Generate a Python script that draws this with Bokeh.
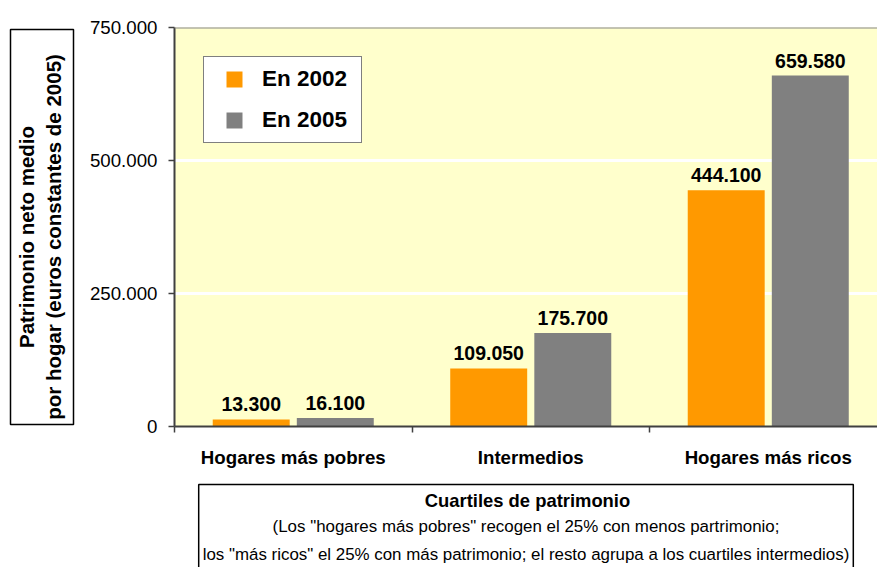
from math import pi
from bokeh.plotting import figure
from bokeh.layouts import column, row
from bokeh.models import (Range1d, FixedTicker, Label, Legend, LegendItem, Span,
                          ColumnDataSource)
from bokeh.core.properties import value
from bokeh.embed import file_html
from bokeh.resources import INLINE

# ---- data ----
categories = ["Hogares más pobres", "Intermedios", "Hogares más ricos"]
series_names = ["En 2002", "En 2005"]
values_2002 = [13300, 109050, 444100]
values_2005 = [16100, 175700, 659580]
y_ticks = [0, 250000, 500000, 750000]
y_tick_labels = ["0", "250.000", "500.000", "750.000"]
y_title = "Patrimonio neto medio\npor hogar (euros constantes de 2005)"
note_title = "Cuartiles de patrimonio"
note_lines = ['(Los "hogares más pobres" recogen el 25% con menos partrimonio;',
              'los "más ricos" el 25% con más patrimonio; el resto agrupa a los cuartiles intermedios)']

FONT = "Liberation Sans"
ORANGE = "#FF9900"
GRAY = "#808080"

def fmt(v):
    return f"{v:,}".replace(",", ".")

# category i centred at 2*i+1, boundaries at even numbers
centers = [2 * i + 1 for i in range(len(categories))]
off = 0.354
bw = 0.648

src = ColumnDataSource(dict(
    x1=[c - off for c in centers], x2=[c + off for c in centers],
    v1=values_2002, v2=values_2005,
    l1=[fmt(v) for v in values_2002], l2=[fmt(v) for v in values_2005],
))

TOP_H = 470
LEFT_W = 80
W, H = 877, 567
FR_TOP, FR_BOT = 27, 427   # frame top / bottom in page pixels

p = figure(width=W - LEFT_W, height=TOP_H, output_backend="svg", toolbar_location=None,
           x_range=Range1d(0, 5.92), y_range=Range1d(0, 750000),
           min_border_left=94, min_border_right=0, min_border_top=FR_TOP,
           min_border_bottom=TOP_H - FR_BOT)
p.background_fill_color = "#FFFFCC"
p.border_fill_color = "white"
p.outline_line_color = None

r1 = p.vbar(x="x1", top="v1", width=bw, bottom=0, source=src,
            fill_color=ORANGE, line_color=None)
r2 = p.vbar(x="x2", top="v2", width=bw, bottom=0, source=src,
            fill_color=GRAY, line_color=None)

p.text(x="x1", y="v1", text="l1", source=src, text_align="center",
       text_baseline="alphabetic", y_offset=-15, text_font=value(FONT),
       text_font_style="bold", text_font_size="19.5px", text_color="black")
p.text(x="x2", y="v2", text="l2", source=src, text_align="center",
       text_baseline="alphabetic", y_offset=-15, text_font=value(FONT),
       text_font_style="bold", text_font_size="19.5px", text_color="black")

# axes
xa = p.xaxis[0]
xa.ticker = FixedTicker(ticks=centers, minor_ticks=[0] + [c + 1 for c in centers[:-1]])
xa.major_label_overrides = {c: lab for c, lab in zip(centers, categories)}
xa.major_tick_out = 0
xa.major_tick_in = 0
xa.minor_tick_out = 6
xa.minor_tick_in = 0
xa.major_label_standoff = 14
xa.major_label_text_font = FONT
xa.major_label_text_font_style = "bold"
xa.major_label_text_font_size = "18.7px"
xa.major_label_text_color = "black"
xa.axis_line_color = "#404040"
xa.axis_line_width = 2
xa.minor_tick_line_color = "#404040"
xa.minor_tick_line_width = 1.5

ya = p.yaxis[0]
ya.ticker = FixedTicker(ticks=y_ticks, minor_ticks=[])
ya.major_label_overrides = {t: lab for t, lab in zip(y_ticks, y_tick_labels)}
ya.major_tick_out = 6
ya.major_tick_in = 0
ya.minor_tick_out = 0
ya.minor_tick_in = 0
ya.major_label_standoff = 11
ya.major_label_text_font = FONT
ya.major_label_text_font_size = "18.7px"
ya.major_label_text_color = "black"
ya.axis_line_color = "#404040"
ya.axis_line_width = 2
ya.major_tick_line_color = "#404040"
ya.major_tick_line_width = 1.5

p.xgrid.visible = False
p.ygrid.ticker = FixedTicker(ticks=y_ticks[1:-1])
p.ygrid.grid_line_color = "white"
p.ygrid.grid_line_width = 3

p.add_layout(Span(location=y_ticks[-1], dimension="width",
                  line_color="#888888", line_width=2))

# legend (proxy markers kept outside the visible range)
d1 = p.scatter(x=[centers[0]], y=[-y_ticks[-1]], marker="square", size=16,
               fill_color=ORANGE, line_color=None)
d2 = p.scatter(x=[centers[0]], y=[-y_ticks[-1]], marker="square", size=16,
               fill_color=GRAY, line_color=None)
legend = Legend(items=[LegendItem(label=series_names[0], renderers=[d1]),
                       LegendItem(label=series_names[1], renderers=[d2])],
                location=(29, 283), margin=0, padding=2, spacing=1,
                glyph_width=56, glyph_height=40, label_standoff=0, label_width=97,
                label_text_font=FONT, label_text_font_style="bold",
                label_text_font_size="22.5px", label_text_color="black",
                border_line_color="black", border_line_width=1,
                background_fill_color="white", background_fill_alpha=1)
p.add_layout(legend)


def blank(width, height, yr, **kw):
    f = figure(width=width, height=height, output_backend="svg", toolbar_location=None,
               x_range=Range1d(0, width), y_range=yr,
               x_axis_type=None, y_axis_type=None, min_border=0, **kw)
    f.outline_line_color = None
    f.background_fill_color = "white"
    f.border_fill_color = "white"
    f.grid.visible = False
    return f

# y title box (left strip; frame matches the main frame, y in page pixels, downwards)
left = blank(LEFT_W, TOP_H, Range1d(FR_BOT, FR_TOP),
             min_border_top=FR_TOP, min_border_bottom=TOP_H - FR_BOT)
left.quad(left=10, right=73, top=29, bottom=425,
          fill_color="white", line_color="black", line_width=1.5)
left.add_layout(Label(x=39.5, y=237, text=y_title,
                      angle=pi / 2, text_align="center", text_baseline="middle",
                      text_font=FONT, text_font_style="bold", text_font_size="20.5px",
                      text_line_height=1.15, text_color="black"))

# bottom note box
BH = H - TOP_H
bottom = blank(W, BH, Range1d(0, BH))
bottom.add_layout(Label(x=525.5, y=BH - 14, text="\n".join([" "] + note_lines),
                        text_align="center", text_baseline="top", text_font=FONT,
                        text_font_size="16.9px", text_line_height=1.45,
                        text_color="black",
                        border_line_color="black", border_line_width=1.5,
                        background_fill_color="white",
                        padding=dict(left=4, right=4, top=5, bottom=30)))
bottom.add_layout(Label(x=527, y=BH - 30, text=note_title,
                        text_align="center", text_baseline="middle", text_font=FONT,
                        text_font_style="bold", text_font_size="18.4px",
                        text_color="black"))

layout = column(row(left, p, spacing=0), bottom, spacing=0)
open("out.html", "w").write(file_html(layout, INLINE))
